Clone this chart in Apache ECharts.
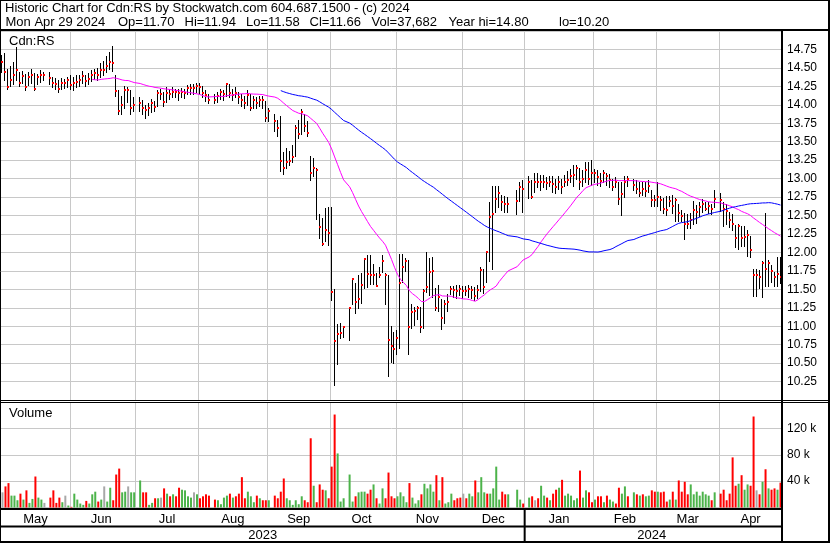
<!DOCTYPE html>
<html><head><meta charset="utf-8">
<script src="https://cdn.jsdelivr.net/npm/echarts@6/dist/echarts.min.js"></script>
<style>html,body{margin:0;padding:0;background:#fff}#c{width:830px;height:543px}</style>
</head><body><div id="c"></div>
<script>
// ---------- categories: every weekday from May 1 2023 to Apr 29 2024 ----------
const firstDay = [2023, 4, 1], lastDay = [2024, 3, 29];
const holidays = ['2023-05-22','2023-07-03','2023-08-07','2023-09-04','2023-10-09',
  '2023-12-25','2023-12-26','2024-01-01','2024-02-19','2024-03-29'];
const monthNames = ['Jan','Feb','Mar','Apr','May','Jun','Jul','Aug','Sep','Oct','Nov','Dec'];

// ---------- trading-day values (one entry per trading day) ----------
const close = [
 14.58,14.45,14.24,14.33,14.40,14.47,14.30,14.39,14.24,14.37,14.41,14.22,14.37,14.41,14.41,14.36,14.30,14.28,14.21,14.29,14.29,14.33, // May
 14.27,14.29,14.31,14.33,14.39,14.32,14.35,14.41,14.43,14.40,14.47,14.47,14.53,14.58,14.56,14.19,13.92,14.00,14.20,14.20,13.95,14.00, // Jun
 14.03,13.95,13.93,13.95,14.02,13.97,14.16,14.15,14.04,14.16,14.15,14.18,14.18,14.16,14.18,14.16,14.23,14.23,14.23,14.26, // Jul
 14.24,14.16,14.13,14.07,14.07,14.12,14.17,14.15,14.28,14.16,14.13,14.16,14.10,14.07,14.02,14.13,13.96,14.07,14.02,14.07,14.07,13.82, // Aug
 13.91,13.78,13.68,13.24,13.14,13.22,13.24,13.29,13.69,13.61,13.90,13.71,13.62,13.07,13.15,13.11,12.35,12.11,12.30,12.26, // Sep
 11.46,10.80,10.90,10.91,10.99,11.25,11.64,11.33,11.37,11.56,11.91,11.71,11.69,11.70,11.54,11.70,11.89,11.70,10.81,10.73,10.69, // Oct
 10.84,11.58,11.80,11.88,10.99,11.19,11.21,11.25,10.99,11.48,11.53,11.73,11.75,11.24,11.39,11.11,11.30,11.33,11.50,11.49,11.48,11.50, // Nov
 11.48,11.48,11.51,11.49,11.41,11.49,11.76,11.53,12.00,12.48,12.52,12.73,12.81,12.68,12.66,12.65,12.69,12.88,12.86, // Dec
 12.96,12.75,12.96,12.96,12.96,12.96,12.94,12.96,12.93,12.88,12.95,12.88,12.96,12.98,13.04,13.05,13.14,12.95,12.99,13.11,13.00,13.08, // Jan
 13.08,13.02,12.97,13.07,13.03,12.98,12.88,12.96,12.72,12.79,12.95,12.99,12.92,12.86,12.81,12.86,12.83,12.90,12.71,12.71, // Feb
 12.75,12.71,12.59,12.57,12.69,12.63,12.71,12.53,12.50,12.39,12.39,12.44,12.57,12.55,12.61,12.66,12.59,12.63,12.59,12.72, // Mar
 12.71,12.59,12.56,12.44,12.39,12.20,12.36,12.19,12.21,12.24,12.03,11.70,11.70,11.66,11.85,11.78,11.85,11.75,11.67,11.71,11.66  // Apr
];
const high = [
 14.68,14.70,14.48,14.52,14.58,14.78,14.45,14.46,14.42,14.44,14.48,14.43,14.42,14.47,14.45,14.45,14.38,14.36,14.33,14.36,14.35,14.38,
 14.40,14.37,14.40,14.41,14.46,14.40,14.43,14.47,14.49,14.50,14.57,14.60,14.66,14.72,14.80,14.40,14.20,14.12,14.25,14.24,14.20,14.10,
 14.10,14.06,14.00,14.02,14.08,14.05,14.20,14.22,14.18,14.24,14.21,14.24,14.22,14.21,14.23,14.22,14.27,14.28,14.28,14.30,
 14.29,14.25,14.20,14.15,14.15,14.18,14.22,14.20,14.30,14.28,14.22,14.24,14.18,14.15,14.12,14.20,14.15,14.12,14.10,14.12,14.12,14.05,
 13.95,13.88,13.80,13.85,13.36,13.42,13.38,13.45,13.73,13.80,13.94,13.88,13.78,13.30,13.28,13.15,12.52,12.47,12.60,12.62,
 12.62,11.51,11.03,11.05,11.00,11.25,11.64,11.58,11.70,11.72,11.93,11.96,11.97,11.84,11.72,11.80,11.97,11.72,11.70,11.00,10.92,
 10.95,11.98,11.98,11.93,11.90,11.30,11.26,11.28,11.26,11.50,12.01,11.92,11.94,11.52,11.56,11.37,11.35,11.44,11.55,11.55,11.56,11.56,
 11.55,11.55,11.56,11.55,11.53,11.56,11.80,11.78,12.00,12.68,12.90,12.90,12.90,12.78,12.77,12.75,12.85,12.95,12.98,
 13.04,12.98,13.07,13.08,13.05,13.05,13.02,13.04,13.04,13.00,13.04,13.00,13.05,13.10,13.13,13.18,13.18,13.15,13.12,13.22,13.23,13.25,
 13.13,13.12,13.08,13.12,13.08,13.06,13.00,13.02,12.95,12.96,13.03,13.03,13.00,12.98,12.95,12.95,12.96,12.98,12.85,12.78,
 12.96,12.76,12.74,12.76,12.76,12.78,12.74,12.65,12.58,12.54,12.52,12.54,12.69,12.64,12.68,12.72,12.68,12.68,12.66,12.85,
 12.80,12.68,12.65,12.55,12.52,12.37,12.38,12.36,12.36,12.31,12.22,11.78,11.78,11.76,11.89,12.54,11.90,11.83,11.74,11.94,11.94
];
const low = [
 14.45,14.33,14.22,14.25,14.28,14.34,14.25,14.30,14.20,14.27,14.30,14.20,14.28,14.31,14.33,14.28,14.24,14.22,14.17,14.22,14.23,14.24,
 14.22,14.20,14.24,14.25,14.30,14.25,14.28,14.32,14.35,14.33,14.38,14.40,14.45,14.48,14.46,14.12,13.88,13.88,13.96,14.04,13.88,13.92,
 13.92,13.88,13.82,13.86,13.90,13.92,13.98,14.08,13.98,14.04,14.08,14.10,14.10,14.07,14.10,14.09,14.14,14.15,14.14,14.17,
 14.14,14.10,14.05,14.02,14.02,14.04,14.08,14.06,14.12,14.10,14.06,14.10,14.02,13.98,13.96,14.00,13.93,13.95,13.96,13.98,13.96,13.78,
 13.78,13.65,13.58,13.10,13.06,13.15,13.18,13.22,13.30,13.55,13.60,13.65,13.58,12.98,13.04,12.45,12.20,12.10,12.15,12.10,
 11.35,10.20,10.49,10.84,10.85,10.81,11.30,11.18,11.25,11.32,11.52,11.53,11.57,11.57,11.54,11.66,11.73,11.30,10.32,10.52,10.50,
 10.62,10.70,11.60,11.75,10.62,10.98,11.02,11.10,10.92,10.98,11.47,11.42,11.40,11.22,11.20,10.96,11.05,11.20,11.43,11.40,11.38,11.42,
 11.38,11.42,11.40,11.38,11.36,11.38,11.48,11.45,11.60,11.89,11.77,12.55,12.61,12.58,12.55,12.55,12.52,12.70,12.55,
 12.74,12.74,12.82,12.88,12.85,12.88,12.86,12.90,12.82,12.80,12.86,12.80,12.90,12.92,12.96,12.90,13.00,12.86,12.90,12.96,12.93,12.92,
 12.95,12.92,12.90,12.95,12.92,12.88,12.85,12.88,12.66,12.51,12.75,12.90,12.85,12.80,12.76,12.78,12.76,12.82,12.63,12.63,
 12.63,12.58,12.54,12.51,12.63,12.54,12.42,12.42,12.42,12.18,12.33,12.33,12.38,12.40,12.50,12.55,12.57,12.54,12.52,12.62,
 12.56,12.36,12.39,12.34,12.30,12.07,12.05,12.08,12.08,11.95,11.94,11.41,11.41,11.52,11.40,11.55,11.55,11.60,11.55,11.55,11.58
];
// volume in thousands
const volume = [
 23,32,37,18,18,11,21,12,26,7,13,47,15,12,7,15,26,7,15,8,18,3,
 1,21,12,6,4,10,6,20,24,9,12,32,9,30,11,50,59,23,24,32,23,23,
 41,23,23,4,7,14,14,15,29,21,17,20,17,30,27,26,17,15,23,20,
 14,17,20,18,12,11,5,15,18,21,15,17,21,46,14,24,17,8,18,14,11,11,
 11,18,14,24,44,14,11,4,11,5,17,11,8,105,33,8,35,27,26,14,
 62,141,82,9,14,50,9,17,23,24,24,21,27,35,14,6,29,14,53,17,14,
 17,23,17,8,37,15,6,11,20,36,29,35,24,49,11,46,6,8,21,11,14,15,
 21,14,21,17,41,23,46,23,21,21,29,62,12,24,20,20,27,12,6,
 15,17,11,14,33,18,15,11,21,27,30,42,18,21,18,11,14,56,15,26,23,8,
 12,17,17,8,18,12,9,6,30,21,32,17,23,20,18,20,17,18,26,24,
 24,23,24,9,12,24,12,41,24,39,20,35,20,24,18,24,20,18,11,23,
 21,27,11,21,76,33,36,49,27,35,33,138,26,20,39,58,29,27,29,27,37.682
];
// volume bar colour: u = up (green), d = down (red), n = unchanged (grey)
const volDir = [
 'ndduuududuuduun'+'ddddunu',
 'duuuuduuudunuuddduunuu',
 'udduudundududduuuunu',
 'dddd'+'duuuududddduuududd',
 'udddduuuuuudddudddud',
 'dduuuuuduuudduduudddd',
 'uuuuduuuduuuududuuuddd',
 'nduuduuuduuuudduuud',
 'udnduududduduuuuuduudd',
 'udduduudduudududuudd',
 'udddududddduuuuuuudu',
 'dddddduduuddndududdud'
].join('');
const maShort = 30, maLong = 90;
const priceMin = 10, priceMax = 15, priceStep = 0.25;
const volMax = 160, volStep = 40;

// ---------- build ----------
const cats = [];
for (let d = new Date(Date.UTC(firstDay[0], firstDay[1], firstDay[2]));
     d.getTime() <= Date.UTC(lastDay[0], lastDay[1], lastDay[2]);
     d.setUTCDate(d.getUTCDate() + 1)) {
  const wd = d.getUTCDay();
  if (wd === 0 || wd === 6) continue;
  cats.push(d.toISOString().slice(0, 10));
}
const tIdx = []; let t = 0;
cats.forEach(c => { tIdx.push(holidays.includes(c) ? -1 : t++); });

function sma(arr, n) {
  return arr.map((v, i) => {
    if (i < n - 1) return null;
    let s = 0; for (let k = i - n + 1; k <= i; k++) s += arr[k];
    return s / n;
  });
}
const maS = sma(close, maShort), maL = sma(close, maLong);

const ohlc = [], volData = [], maSData = [], maLData = [];
const dirColor = { u: '#4cb34a', d: '#ff0000', n: '#a8a8a8' };
cats.forEach((c, i) => {
  const k = tIdx[i];
  if (k < 0) { volData.push(null); maSData.push(null); maLData.push(null); return; }
  ohlc.push([i, low[k], high[k], close[k]]);
  volData.push({ value: volume[k], itemStyle: { color: dirColor[volDir[k]] } });
  maSData.push(maS[k]); maLData.push(maL[k]);
});

// month starts, month middles, year middles
const monthStart = new Set(), monthMid = new Set(), yearMid = new Set();
const groups = {}, ygroups = {};
cats.forEach((c, i) => {
  const m = c.slice(0, 7), y = c.slice(0, 4);
  if (i > 0 && m !== cats[i - 1].slice(0, 7)) monthStart.add(i);
  (groups[m] = groups[m] || []).push(i);
  (ygroups[y] = ygroups[y] || []).push(i);
});
Object.values(groups).forEach(g => monthMid.add(Math.floor((g[0] + g[g.length - 1]) / 2)));
Object.values(ygroups).forEach(g => yearMid.add(Math.floor((g[0] + g[g.length - 1]) / 2)));

const FONT = '"Liberation Sans", Arial, sans-serif';
const W = 830, H = 543;
const gL = 1, gW = 781, pTop = 31, pH = 369, vTop = 402, vH = 105.5;
const gridColor = '#c8c8c8';
const catW = gW / cats.length;
const janLine = gL + cats.indexOf('2024-01-01') * catW;

function renderBar(params, api) {
  const x = api.value(0);
  const lo = api.coord([x, api.value(1)]);
  const hi = api.coord([x, api.value(2)]);
  const cl = api.coord([x, api.value(3)]);
  const px = Math.round(lo[0]) - 0.5;
  return {
    type: 'group', children: [
      { type: 'line', shape: { x1: px, y1: Math.round(hi[1]), x2: px, y2: Math.round(lo[1]) + 1 },
        style: { stroke: '#000', lineWidth: 1 } },
      { type: 'rect', shape: { x: px - 0.5, y: Math.round(cl[1]) - 1, width: 2, height: 2 },
        style: { fill: '#ff0000' } }
    ]
  };
}

function hline(y, x1, x2, w) { return { type: 'line', z: 100, shape: { x1, y1: y, x2, y2: y }, style: { stroke: '#000', lineWidth: w } }; }
function vline(x, y1, y2, w) { return { type: 'line', z: 100, shape: { x1: x, y1, x2: x, y2 }, style: { stroke: '#000', lineWidth: w } }; }
function txt(s, x, y, size) { return { type: 'text', z: 100, x, y, style: { text: s, font: size + 'px ' + FONT, fill: '#000', textVerticalAlign: 'middle', verticalAlign: 'middle' } }; }

const header2 = [['Mon Apr 29 2024', 5.5], ['Op=11.70', 118], ['Hi=11.94', 184.5], ['Lo=11.58', 246],
  ['Cl=11.66', 309.5], ['Vol=37,682', 371.5], ['Year hi=14.80', 448.5], ['lo=10.20', 559]];

const chart = echarts.init(document.getElementById('c'), null, { renderer: 'canvas' });
chart.setOption({
  animation: false,
  backgroundColor: '#fff',
  textStyle: { fontFamily: FONT },
  grid: [
    { left: gL, top: pTop, width: gW, height: pH },
    { left: gL, top: vTop, width: gW, height: vH }
  ],
  xAxis: [
    { gridIndex: 0, type: 'category', data: cats, boundaryGap: true,
      axisLine: { show: false }, axisTick: { show: false }, axisLabel: { show: false },
      splitLine: { show: true, interval: (i) => monthStart.has(i), lineStyle: { color: gridColor, width: 1 } } },
    { gridIndex: 1, type: 'category', data: cats, boundaryGap: true,
      axisLine: { show: false }, axisTick: { show: false },
      axisLabel: { show: true, interval: (i) => monthMid.has(i), margin: 5, fontSize: 13, color: '#000', fontFamily: FONT,
        formatter: (v) => monthNames[+v.slice(5, 7) - 1] },
      splitLine: { show: true, interval: (i) => monthStart.has(i), lineStyle: { color: gridColor, width: 1 } } },
    { gridIndex: 1, type: 'category', data: cats, boundaryGap: true, position: 'bottom', offset: 17,
      axisLine: { show: false }, axisTick: { show: false }, splitLine: { show: false },
      axisLabel: { show: true, interval: (i) => yearMid.has(i), margin: 4, fontSize: 13, color: '#000', fontFamily: FONT,
        formatter: (v) => v.slice(0, 4) } }
  ],
  yAxis: [
    { gridIndex: 0, type: 'value', position: 'right', min: priceMin, max: priceMax, interval: priceStep,
      axisLine: { show: false }, axisTick: { show: false },
      axisLabel: { margin: 5, fontSize: 12, color: '#000', fontFamily: FONT, showMinLabel: false, showMaxLabel: false,
        formatter: (v) => v.toFixed(2) },
      splitLine: { show: true, lineStyle: { color: gridColor, width: 1 } } },
    { gridIndex: 1, type: 'value', position: 'right', min: 0, max: volMax, interval: volStep,
      axisLine: { show: false }, axisTick: { show: false },
      axisLabel: { margin: 5, fontSize: 12, color: '#000', fontFamily: FONT, showMinLabel: false, showMaxLabel: false,
        formatter: (v) => v + ' k' },
      splitLine: { show: true, lineStyle: { color: gridColor, width: 1 } } }
  ],
  series: [
    { type: 'custom', xAxisIndex: 0, yAxisIndex: 0, renderItem: renderBar, data: ohlc,
      encode: { x: 0, y: [1, 2, 3] }, clip: true, z: 2 },
    { type: 'line', xAxisIndex: 0, yAxisIndex: 0, data: maSData, connectNulls: true, showSymbol: false, symbol: 'none',
      lineStyle: { color: '#ff00ff', width: 1 }, z: 3, silent: true },
    { type: 'line', xAxisIndex: 0, yAxisIndex: 0, data: maLData, connectNulls: true, showSymbol: false, symbol: 'none',
      lineStyle: { color: '#0000ff', width: 1 }, z: 3, silent: true },
    { type: 'bar', xAxisIndex: 1, yAxisIndex: 1, data: volData, barWidth: 2, z: 2 }
  ],
  graphic: [
    hline(0.5, 0, W, 1), vline(0.5, 0, H, 1), vline(W - 1, 0, H, 2), hline(H - 1, 0, W, 2),
    hline(30, 0, W, 2),
    hline(400.5, 0, W, 1), hline(402.5, 0, W, 1),
    hline(509, 0, gL + gW, 2), hline(526.5, 0, gL + gW, 2),
    vline(gL + gW, 30, H, 2),
    vline(janLine, 508, H, 2),
    txt('Historic Chart for Cdn:RS by Stockwatch.com 604.687.1500 - (c) 2024', 5, 8.5, 13),
    ...header2.map(([s, x]) => txt(s, x, 22.3, 13)),
    txt('Cdn:RS', 9, 41, 13),
    txt('Volume', 9, 413, 13)
  ]
});
</script></body></html>
